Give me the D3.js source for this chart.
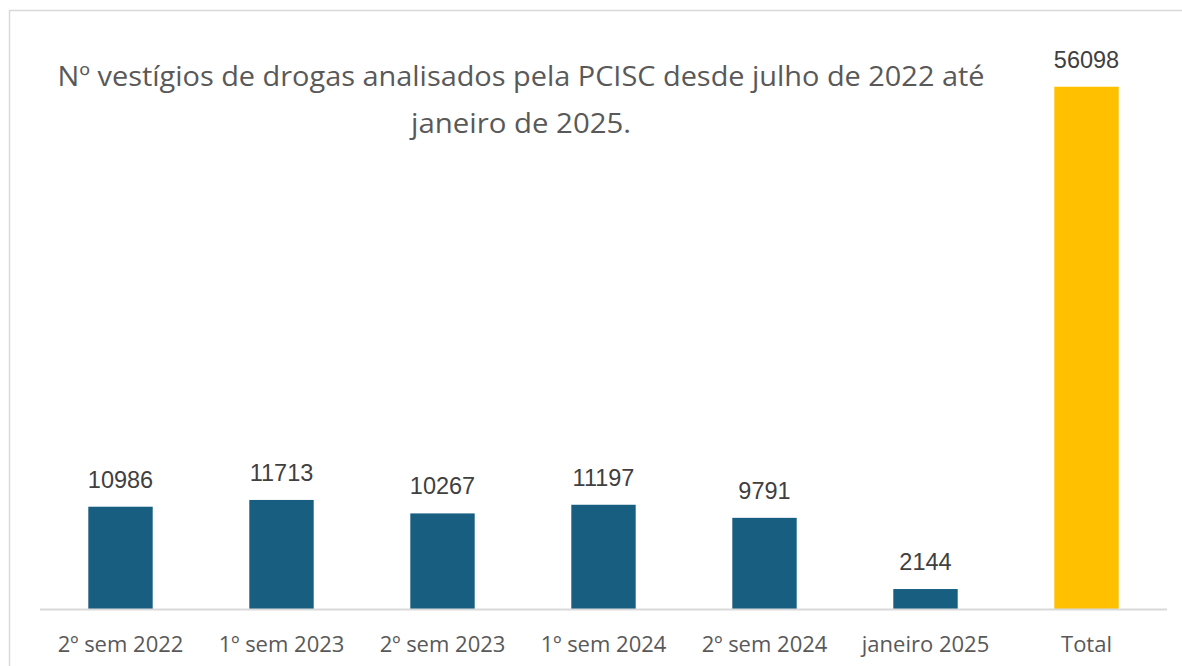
<!DOCTYPE html>
<html>
<head>
<meta charset="utf-8">
<script src="https://cdn.jsdelivr.net/npm/d3@7"></script>
<style>
  html, body { margin: 0; padding: 0; background: #fff; }
  svg { display: block; }
</style>
</head>
<body>
<svg id="chart" width="1182" height="666"></svg>
<script>
const categories = ["2º sem 2022", "1º sem 2023", "2º sem 2023", "1º sem 2024", "2º sem 2024", "janeiro 2025", "Total"];
const values = [10986, 11713, 10267, 11197, 9791, 2144, 56098];
const barColors = ["#175E80", "#175E80", "#175E80", "#175E80", "#175E80", "#175E80", "#FFC000"];
const titleLines = ["Nº vestígios de drogas analisados pela PCISC desde julho de 2022 até", "janeiro de 2025."];
const titleWidths = [927, 220];

const svg = d3.select("#chart");
const W = 1182, H = 666;
const baseY = 609, topY = 50.4;
const left = 40, right = 1167;

svg.append("rect")
  .attr("x", 9.5).attr("y", 10.5)
  .attr("width", W).attr("height", H)
  .attr("fill", "#fff").attr("stroke", "#D9D9D9").attr("stroke-width", 1.5);

const x = d3.scaleBand().domain(categories).range([left, right]).paddingInner(0.6).paddingOuter(0.3);
const y = d3.scaleLinear().domain([0, 60000]).range([baseY, topY]);

const data = categories.map((c, i) => ({ c, v: values[i], color: barColors[i] }));

svg.append("g").selectAll("rect").data(data).join("rect")
  .attr("x", d => x(d.c))
  .attr("y", d => y(d.v))
  .attr("width", x.bandwidth())
  .attr("height", d => y(0) - y(d.v))
  .attr("fill", d => d.color);

// axis
const axis = svg.append("g").attr("transform", `translate(0,${baseY + 0.5})`)
  .call(d3.axisBottom(x).tickSize(0).tickPadding(0).tickSizeOuter(0));
axis.select(".domain").attr("stroke", "#D9D9D9").attr("stroke-width", 2).attr("d", `M${left},0H${right}`);
axis.selectAll(".tick text")
  .attr("dy", 0).attr("y", 42)
  .attr("fill", "#595959")
  .attr("font-family", "'Open Sans', sans-serif")
  .attr("font-size", 22);

// value labels
svg.append("g").selectAll("text").data(data).join("text")
  .attr("x", d => x(d.c) + x.bandwidth() / 2)
  .attr("y", d => y(d.v) - 19)
  .attr("text-anchor", "middle")
  .attr("fill", "#404040")
  .attr("font-family", "'Liberation Sans', Arial, sans-serif")
  .attr("font-size", 23.5)
  .text(d => d.v);

// title
svg.append("g").selectAll("text").data(titleLines).join("text")
  .attr("x", 521)
  .attr("y", (d, i) => 86 + i * 47)
  .attr("text-anchor", "middle")
  .attr("fill", "#595959")
  .attr("font-family", "'Open Sans', sans-serif")
  .attr("font-size", 27)
  .attr("textLength", (d, i) => titleWidths[i])
  .attr("lengthAdjust", "spacingAndGlyphs")
  .text(d => d);
</script>
</body>
</html>
